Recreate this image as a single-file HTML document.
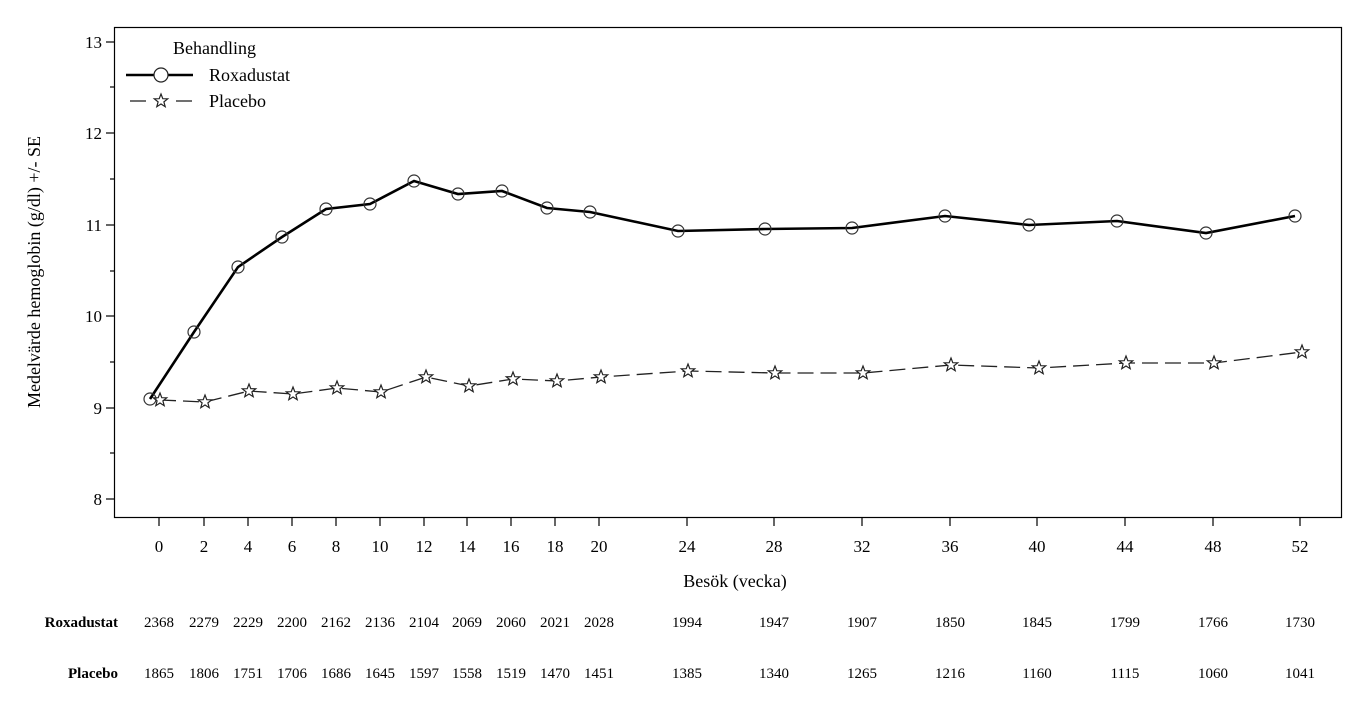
<!DOCTYPE html>
<html><head><meta charset="utf-8"><style>
body{margin:0;background:#fff}
svg text{font-family:"Liberation Serif",serif;fill:#000}
</style></head><body>
<svg width="1360" height="700" viewBox="0 0 1360 700" xmlns="http://www.w3.org/2000/svg">
<defs>
<path id="st" d="M0,-7 L1.8,-2.3 6.7,-2.2 2.9,0.9 4.2,5.7 0,3 -4.2,5.7 -2.9,0.9 -6.7,-2.2 -1.8,-2.3Z" fill="#fff" stroke="#222" stroke-width="1.2"/>
</defs>
<rect x="114.5" y="27.5" width="1227" height="490" fill="none" stroke="#000" stroke-width="1.2"/>
<g stroke="#000" stroke-width="1.2">
<line x1="106" y1="42" x2="114" y2="42"/><line x1="110" y1="87" x2="114" y2="87"/>
<line x1="106" y1="133" x2="114" y2="133"/><line x1="110" y1="179" x2="114" y2="179"/>
<line x1="106" y1="225" x2="114" y2="225"/><line x1="110" y1="271" x2="114" y2="271"/>
<line x1="106" y1="316" x2="114" y2="316"/><line x1="110" y1="362" x2="114" y2="362"/>
<line x1="106" y1="408" x2="114" y2="408"/><line x1="110" y1="453" x2="114" y2="453"/>
<line x1="106" y1="499" x2="114" y2="499"/>
</g>
<g font-size="17" text-anchor="end">
<text x="102" y="48">13</text><text x="102" y="139">12</text><text x="102" y="231">11</text>
<text x="102" y="322">10</text><text x="102" y="414">9</text><text x="102" y="505">8</text>
</g>
<text transform="translate(40,272) rotate(-90)" font-size="18" text-anchor="middle">Medelvärde hemoglobin (g/dl) +/- SE</text>
<g stroke="#000" stroke-width="1.2">
<line x1="159" y1="518" x2="159" y2="526"/><line x1="204" y1="518" x2="204" y2="526"/><line x1="248" y1="518" x2="248" y2="526"/><line x1="292" y1="518" x2="292" y2="526"/><line x1="336" y1="518" x2="336" y2="526"/><line x1="380" y1="518" x2="380" y2="526"/><line x1="424" y1="518" x2="424" y2="526"/><line x1="467" y1="518" x2="467" y2="526"/><line x1="511" y1="518" x2="511" y2="526"/><line x1="555" y1="518" x2="555" y2="526"/><line x1="599" y1="518" x2="599" y2="526"/><line x1="687" y1="518" x2="687" y2="526"/><line x1="774" y1="518" x2="774" y2="526"/><line x1="862" y1="518" x2="862" y2="526"/><line x1="950" y1="518" x2="950" y2="526"/><line x1="1037" y1="518" x2="1037" y2="526"/><line x1="1125" y1="518" x2="1125" y2="526"/><line x1="1213" y1="518" x2="1213" y2="526"/><line x1="1300" y1="518" x2="1300" y2="526"/>
</g>
<g font-size="17" text-anchor="middle">
<text x="159" y="552">0</text><text x="204" y="552">2</text><text x="248" y="552">4</text><text x="292" y="552">6</text><text x="336" y="552">8</text><text x="380" y="552">10</text><text x="424" y="552">12</text><text x="467" y="552">14</text><text x="511" y="552">16</text><text x="555" y="552">18</text><text x="599" y="552">20</text><text x="687" y="552">24</text><text x="774" y="552">28</text><text x="862" y="552">32</text><text x="950" y="552">36</text><text x="1037" y="552">40</text><text x="1125" y="552">44</text><text x="1213" y="552">48</text><text x="1300" y="552">52</text>
</g>
<text x="735" y="587" font-size="18" text-anchor="middle">Besök (vecka)</text>
<g font-size="15" font-weight="bold" text-anchor="end"><text x="118" y="627">Roxadustat</text><text x="118" y="678">Placebo</text></g>
<g font-size="15" text-anchor="middle" textLength="30">
<text x="159" y="627">2368</text><text x="204" y="627">2279</text><text x="248" y="627">2229</text><text x="292" y="627">2200</text><text x="336" y="627">2162</text><text x="380" y="627">2136</text><text x="424" y="627">2104</text><text x="467" y="627">2069</text><text x="511" y="627">2060</text><text x="555" y="627">2021</text><text x="599" y="627">2028</text><text x="687" y="627">1994</text><text x="774" y="627">1947</text><text x="862" y="627">1907</text><text x="950" y="627">1850</text><text x="1037" y="627">1845</text><text x="1125" y="627">1799</text><text x="1213" y="627">1766</text><text x="1300" y="627">1730</text>
<text x="159" y="678">1865</text><text x="204" y="678">1806</text><text x="248" y="678">1751</text><text x="292" y="678">1706</text><text x="336" y="678">1686</text><text x="380" y="678">1645</text><text x="424" y="678">1597</text><text x="467" y="678">1558</text><text x="511" y="678">1519</text><text x="555" y="678">1470</text><text x="599" y="678">1451</text><text x="687" y="678">1385</text><text x="774" y="678">1340</text><text x="862" y="678">1265</text><text x="950" y="678">1216</text><text x="1037" y="678">1160</text><text x="1125" y="678">1115</text><text x="1213" y="678">1060</text><text x="1300" y="678">1041</text>
</g>
<polyline fill="none" stroke="#222" stroke-width="1.3" stroke-dasharray="16,7" points="160,400 205,402 249,391 293,394 337,388 381,392 426,377 469,386 513,379 557,381 601,377 688,371 775,373 863,373 951,365 1039,368 1126,363 1214,363 1302,352"/>
<g>
<use href="#st" x="160" y="400"/><use href="#st" x="205" y="402"/><use href="#st" x="249" y="391"/><use href="#st" x="293" y="394"/><use href="#st" x="337" y="388"/><use href="#st" x="381" y="392"/><use href="#st" x="426" y="377"/><use href="#st" x="469" y="386"/><use href="#st" x="513" y="379"/><use href="#st" x="557" y="381"/><use href="#st" x="601" y="377"/><use href="#st" x="688" y="371"/><use href="#st" x="775" y="373"/><use href="#st" x="863" y="373"/><use href="#st" x="951" y="365"/><use href="#st" x="1039" y="368"/><use href="#st" x="1126" y="363"/><use href="#st" x="1214" y="363"/><use href="#st" x="1302" y="352"/>
</g>
<polyline fill="none" stroke="#000" stroke-width="2.6" points="150,399 194,332 238,267 282,237 326,209 370,204 414,181 458,194 502,191 547,208 590,212 678,231 765,229 852,228 945,216 1029,225 1117,221 1206,233 1295,216"/>
<g fill="none" stroke="#333" stroke-width="1.2">
<circle cx="150" cy="399" r="6"/><circle cx="194" cy="332" r="6"/><circle cx="238" cy="267" r="6"/><circle cx="282" cy="237" r="6"/><circle cx="326" cy="209" r="6"/><circle cx="370" cy="204" r="6"/><circle cx="414" cy="181" r="6"/><circle cx="458" cy="194" r="6"/><circle cx="502" cy="191" r="6"/><circle cx="547" cy="208" r="6"/><circle cx="590" cy="212" r="6"/><circle cx="678" cy="231" r="6"/><circle cx="765" cy="229" r="6"/><circle cx="852" cy="228" r="6"/><circle cx="945" cy="216" r="6"/><circle cx="1029" cy="225" r="6"/><circle cx="1117" cy="221" r="6"/><circle cx="1206" cy="233" r="6"/><circle cx="1295" cy="216" r="6"/>
</g>
<text x="173" y="54" font-size="18">Behandling</text>
<line x1="126" y1="75" x2="193" y2="75" stroke="#000" stroke-width="2.6"/>
<circle cx="161" cy="75" r="7" fill="#fff" stroke="#222" stroke-width="1.2"/>
<text x="209" y="81" font-size="18">Roxadustat</text>
<line x1="130" y1="101" x2="146" y2="101" stroke="#222" stroke-width="1.3"/>
<line x1="176" y1="101" x2="192" y2="101" stroke="#222" stroke-width="1.3"/>
<use href="#st" x="161" y="101"/>
<text x="209" y="107" font-size="18">Placebo</text>
</svg>
</body></html>
